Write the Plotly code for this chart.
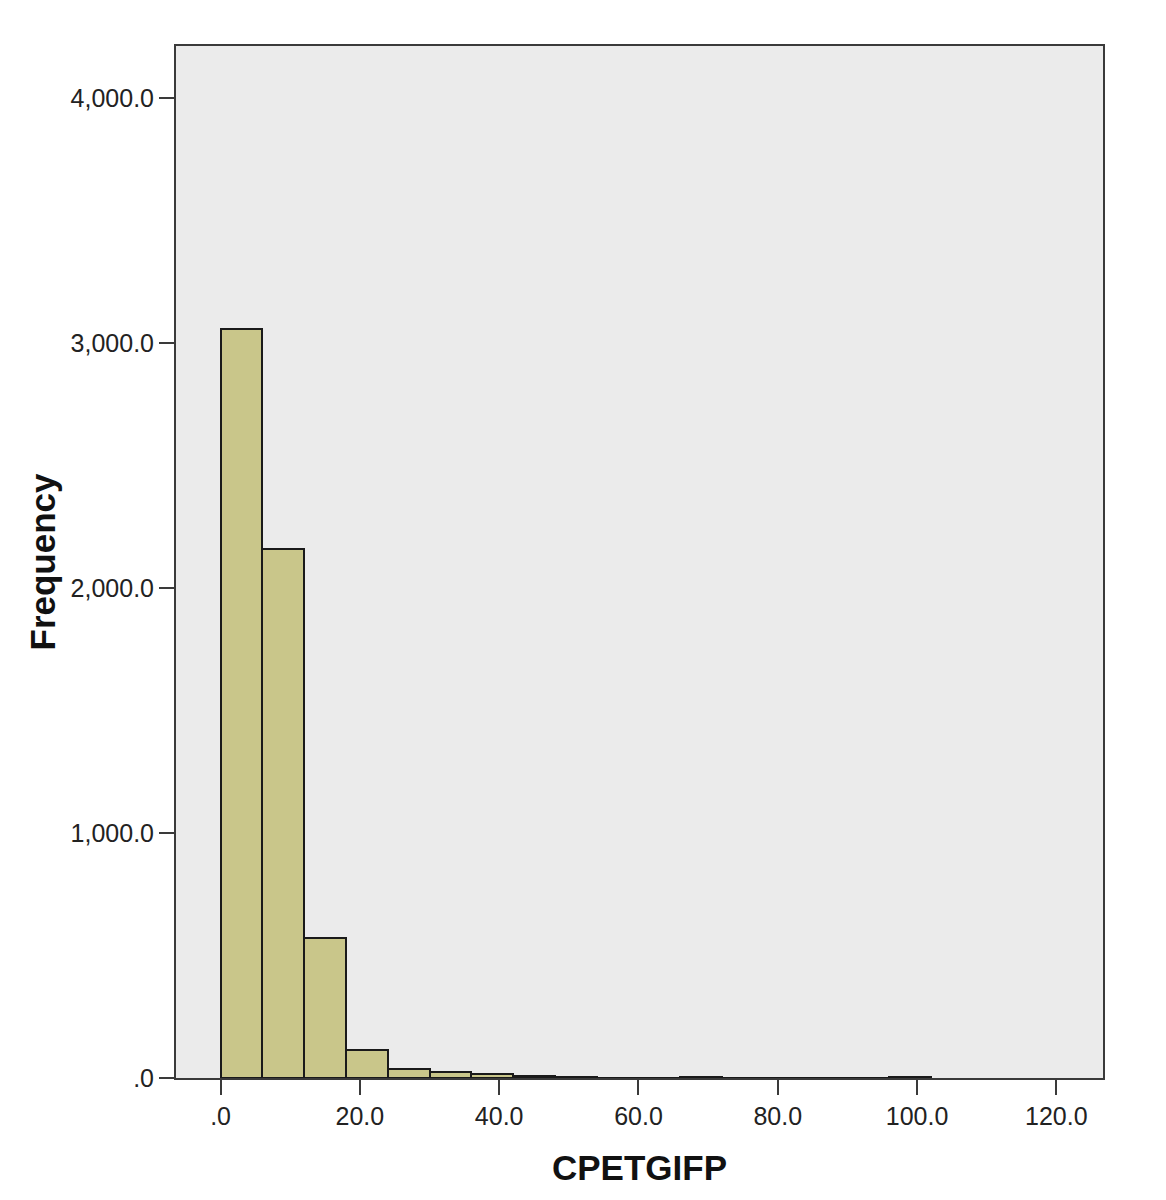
import plotly.graph_objects as go

# histogram of CPETGIFP, bins of width 6 starting at 0
bin_starts = [0, 6, 12, 18, 24, 30, 36, 42, 48, 54, 60, 66, 72, 78, 84, 90, 96]
counts = [3058, 2161, 571, 114, 38, 25, 16, 8, 5, 0, 0, 3, 0, 0, 2, 0, 3]
bin_width = 6

x_ticks = [0, 20, 40, 60, 80, 100, 120]
x_tick_labels = [".0", "20.0", "40.0", "60.0", "80.0", "100.0", "120.0"]
y_ticks = [0, 1000, 2000, 3000, 4000]
y_tick_labels = [".0", "1,000.0", "2,000.0", "3,000.0", "4,000.0"]

centers = [s + bin_width / 2 for s in bin_starts]

fig = go.Figure()
fig.add_trace(go.Bar(
    x=centers,
    y=counts,
    width=bin_width,
    marker=dict(color="#c9c68a", line=dict(color="#1a1a1a", width=2)),
    hoverinfo="x+y",
))

axis_common = dict(
    showline=True,
    linecolor="#3a3a3a",
    linewidth=2,
    mirror=True,
    ticks="outside",
    ticklen=15,
    tickwidth=2,
    tickcolor="#3a3a3a",
    showgrid=False,
    zeroline=False,
    tickfont=dict(family="Liberation Sans, Arial, sans-serif", size=25, color="#222"),
)

fig.update_layout(
    width=1166,
    height=1200,
    margin=dict(l=168, r=71, t=38, b=130),
    paper_bgcolor="white",
    plot_bgcolor="#ebebeb",
    showlegend=False,
    bargap=0,
    xaxis=dict(
        range=[-6.4, 126.7],
        tickvals=x_ticks,
        ticktext=x_tick_labels,
        title=dict(text="<b>CPETGIFP</b>", standoff=26,
                   font=dict(family="Liberation Sans, Arial, sans-serif", size=35, color="#111")),
        **axis_common,
    ),
    yaxis=dict(
        range=[0, 4212],
        tickvals=y_ticks,
        ticktext=y_tick_labels,
        title=dict(text="<b>Frequency</b>", standoff=4,
                   font=dict(family="Liberation Sans, Arial, sans-serif", size=35, color="#111")),
        **axis_common,
    ),
)

fig.write_html("out.html")
